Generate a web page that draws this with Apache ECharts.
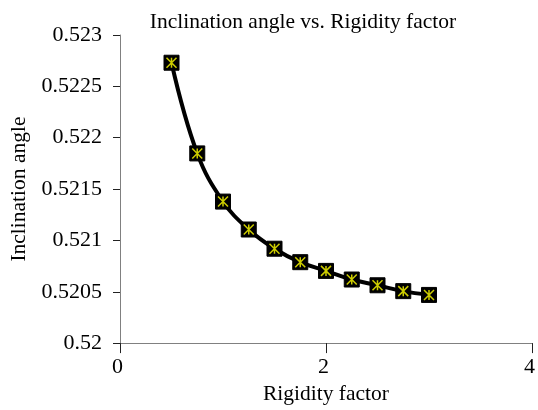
<!DOCTYPE html>
<html><head><meta charset="utf-8">
<script src="https://cdn.jsdelivr.net/npm/echarts@6/dist/echarts.min.js"></script>
<style>html,body{margin:0;padding:0;background:#fff}#c{width:538px;height:410px}</style>
</head><body><div id="c"></div>
<script>
const rigidity = [0.5, 0.75, 1.0, 1.25, 1.5, 1.75, 2.0, 2.25, 2.5, 2.75, 3.0];
const inclination = [0.52273, 0.521847, 0.521378, 0.521106, 0.520919, 0.520788, 0.520703, 0.520619, 0.520563, 0.520506, 0.520469];
const xTicks = [0, 2, 4];
const yTicks = [0.52, 0.5205, 0.521, 0.5215, 0.522, 0.5225, 0.523];

const pts = rigidity.map((x, i) => [x, inclination[i]]);
const font = '"Liberation Serif", "Times New Roman", serif';
const chart = echarts.init(document.getElementById('c'));
chart.setOption({
  animation: false,
  backgroundColor: '#fff',
  title: {
    text: 'Inclination angle vs. Rigidity factor',
    left: 298, top: 6, textAlign: 'center',
    textStyle: {fontFamily: font, fontSize: 21.5, fontWeight: 'normal', color: '#000'}
  },
  grid: {left: 120, right: 4, top: 35, bottom: 55},
  xAxis: {
    type: 'value', min: 0, max: 4, interval: 2,
    name: 'Rigidity factor', nameLocation: 'middle', nameGap: 35,
    nameTextStyle: {fontFamily: font, fontSize: 21.5, color: '#000'},
    axisLine: {lineStyle: {color: '#808080', width: 1}},
    axisTick: {show: true, length: 10, lineStyle: {color: '#222'}},
    axisLabel: {fontFamily: font, fontSize: 22, color: '#000', margin: 13,
      padding: [0, 5, 0, 0],
      formatter: v => xTicks.includes(v) ? String(v) : ''},
    splitLine: {show: false}
  },
  yAxis: {
    type: 'value', min: 0.52, max: 0.523, interval: 0.0005,
    name: 'Inclination angle', nameLocation: 'middle', nameGap: 81,
    nameTextStyle: {fontFamily: font, fontSize: 21.5, color: '#000'},
    axisLine: {show: true, lineStyle: {color: '#808080', width: 1}},
    axisTick: {show: true, length: 7, lineStyle: {color: '#222'}},
    axisLabel: {fontFamily: font, fontSize: 22, color: '#000', margin: 18,
      formatter: v => yTicks.find(t => Math.abs(t - v) < 1e-9) !== undefined ? String(+v.toFixed(4)) : ''},
    splitLine: {show: false}
  },
  series: [
    {
      type: 'line', data: pts, smooth: 0.4,
      lineStyle: {color: '#000', width: 4},
      symbol: 'rect', symbolSize: 15,
      itemStyle: {color: '#000', borderColor: '#000'},
      z: 2
    },
    {
      type: 'scatter', data: pts,
      symbol: 'path://M0 0L10 10M10 0L0 10M5 0L5 10',
      symbolSize: 10,
      itemStyle: {color: 'none', borderColor: '#ffff00', borderWidth: 1.5},
      z: 3
    }
  ]
});
</script></body></html>
